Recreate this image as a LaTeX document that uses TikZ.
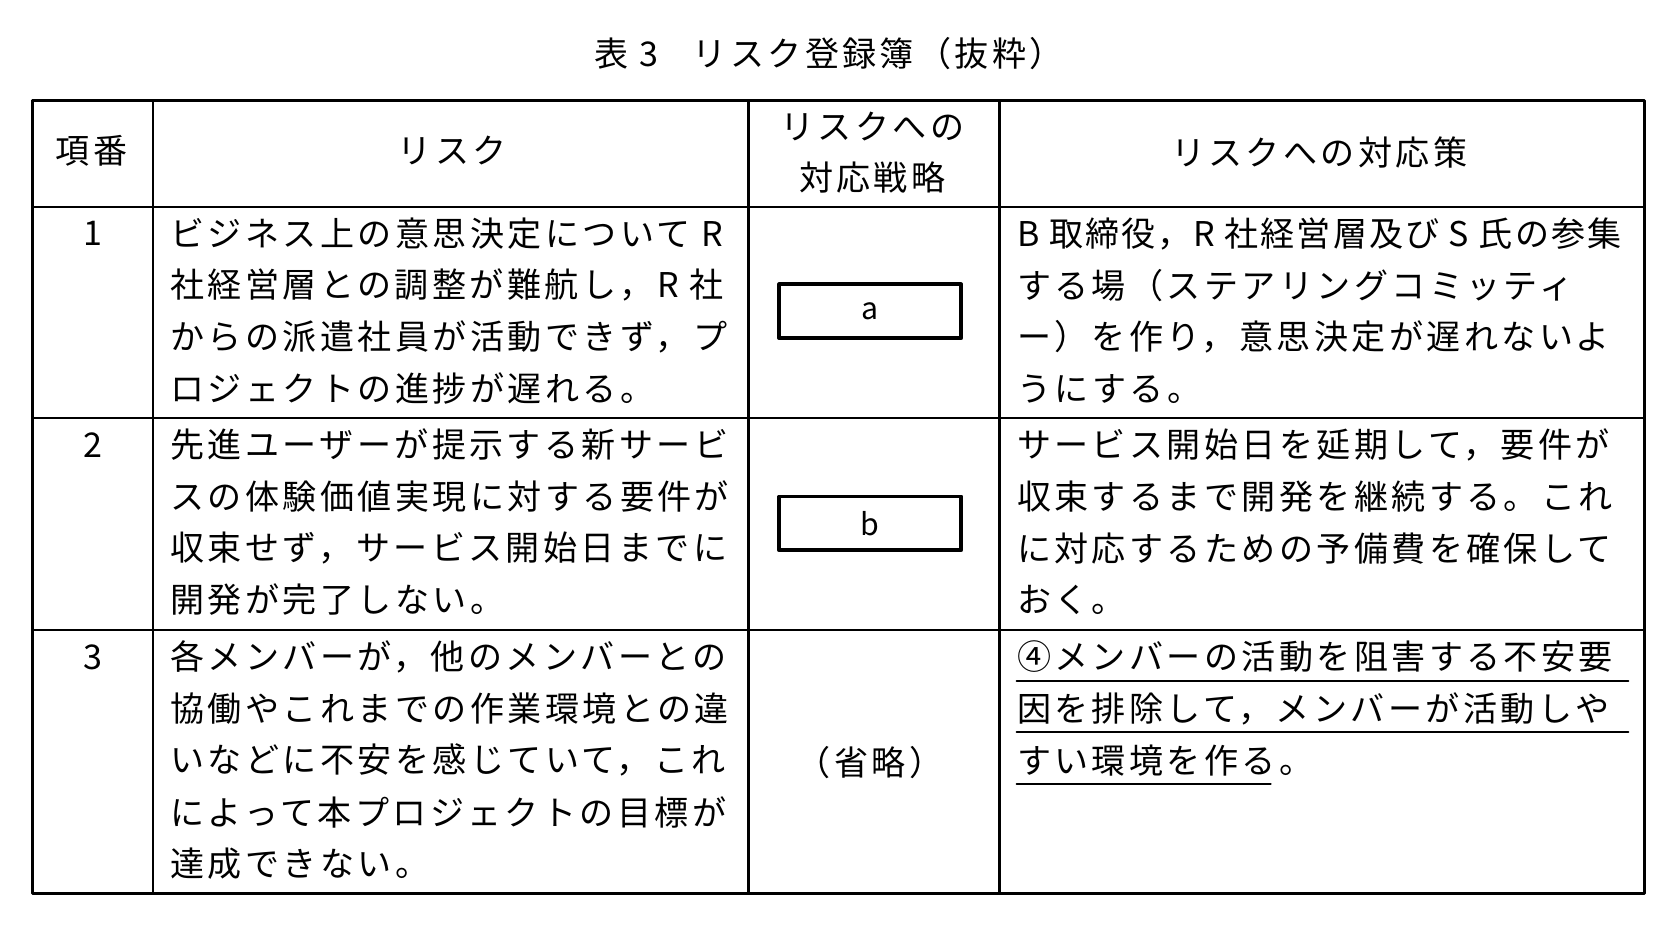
\documentclass[tikz,border=0pt]{standalone}
\usepackage{fontspec}
\setmainfont{Noto Sans CJK JP}[LetterSpace=10]
\tikzset{
  txt/.style={anchor=west,inner sep=0pt,font=\fontsize{18}{20}\selectfont},
  ctr/.style={inner sep=0pt,font=\fontsize{18}{20}\selectfont},
  slot/.style={draw,line width=2pt,minimum width=3.38cm,minimum height=1.0cm,inner sep=0pt,font=\fontsize{16}{18}\selectfont}
}
\begin{document}
\begin{tikzpicture}[line cap=round,line join=round,x=0.02cm,y=-0.02cm]
\useasboundingbox (0,0) rectangle (1560,860);

\node[ctr] (title) at (770,50) {表 3\quad リスク登録簿（抜粋）};

% table frame
\draw [line width=1.6pt] (30,93) rectangle (1527,830);
\foreach \xx in {142,695,928} \draw [line width=1.2pt] (\xx,93) -- (\xx,830);
\foreach \yy in {192,388,585} \draw [line width=1.2pt] (30,\yy) -- (1527,\yy);

% header
\node[ctr] (hno) at (85,140) {項番};
\node[ctr] (hrisk) at (420,140) {リスク};
\node[ctr] (hstr1) at (810,117) {リスクへの};
\node[ctr] (hstr2) at (810,165) {対応戦略};
\node[ctr] (hact) at (1225,142) {リスクへの対応策};

% item numbers
\node[ctr] (n1) at (86,217) {1};
\node[ctr] (n2) at (86,413) {2};
\node[ctr] (n3) at (86,610) {3};

% row 1
\node[txt] (r1a) at (158,217) {ビジネス上の意思決定について R};
\node[txt] (r1b) at (158,265) {社経営層との調整が難航し，R 社};
\node[txt] (r1c) at (158,313) {からの派遣社員が活動できず，プ};
\node[txt] (r1d) at (158,361) {ロジェクトの進捗が遅れる。};
\node[slot] (a) at (808,289) {a};
\node[txt,font=\fontsize{18}{20}\selectfont\addfontfeatures{LetterSpace=6}] (c1a) at (944,217) {B 取締役，R 社経営層及び S 氏の参集};
\node[txt] (c1b) at (944,265) {する場（ステアリングコミッティ};
\node[txt] (c1c) at (944,313) {ー）を作り，意思決定が遅れないよ};
\node[txt] (c1d) at (944,361) {うにする。};

% row 2
\node[txt] (r2a) at (158,413) {先進ユーザーが提示する新サービ};
\node[txt] (r2b) at (158,461) {スの体験価値実現に対する要件が};
\node[txt] (r2c) at (158,509) {収束せず，サービス開始日までに};
\node[txt] (r2d) at (158,557) {開発が完了しない。};
\node[slot] (b) at (808,486) {b};
\node[txt] (c2a) at (944,413) {サービス開始日を延期して，要件が};
\node[txt] (c2b) at (944,461) {収束するまで開発を継続する。これ};
\node[txt] (c2c) at (944,509) {に対応するための予備費を確保して};
\node[txt] (c2d) at (944,557) {おく。};

% row 3
\node[txt] (r3a) at (158,610) {各メンバーが，他のメンバーとの};
\node[txt] (r3b) at (158,658) {協働やこれまでの作業環境との違};
\node[txt] (r3c) at (158,706) {いなどに不安を感じていて，これ};
\node[txt] (r3d) at (158,754) {によって本プロジェクトの目標が};
\node[txt] (r3e) at (158,802) {達成できない。};
\node[ctr] (omit) at (808,708) {（省略）};
\node[txt] (c3a) at (944,610) {④メンバーの活動を阻害する不安要};
\node[txt] (c3b) at (944,658) {因を排除して，メンバーが活動しや};
\node[txt] (c3c) at (944,706) {すい環境を作る。};
\draw [line width=1pt] (944,632) -- (1512,632);
\draw [line width=1pt] (944,680) -- (1512,680);
\draw [line width=1pt] (944,728) -- (1180,728);
\end{tikzpicture}
\end{document}
